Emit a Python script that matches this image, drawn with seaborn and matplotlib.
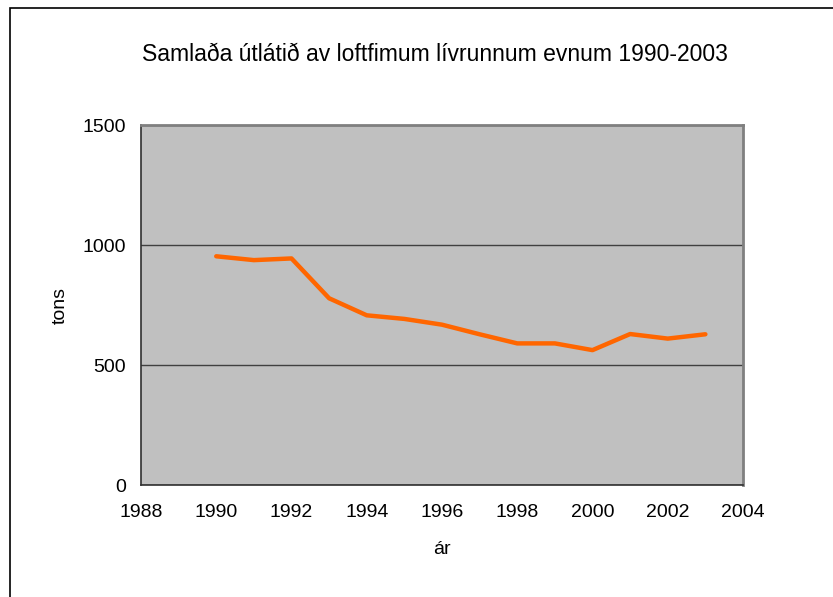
"""
Samlaða útlátið av loftfimum lívrunnum evnum 1990-2003 — line chart.
"""
import matplotlib.pyplot as plt
import pandas as pd
import seaborn as sns
from matplotlib.patches import Rectangle

years = [1990, 1991, 1992, 1993, 1994, 1995, 1996, 1997, 1998, 1999, 2000, 2001, 2002, 2003]
tons = [953, 937, 944, 778, 707, 692, 668, 628, 590, 590, 562, 629, 610, 628]

x_ticks = list(range(1988, 2005, 2))
y_ticks = [0, 500, 1000, 1500]

df = pd.DataFrame({"ár": years, "tons": tons})

sns.set_theme(style="white")
plt.rcParams["font.family"] = ["Liberation Sans", "DejaVu Sans"]
plt.rcParams["text.color"] = "black"
plt.rcParams["axes.labelcolor"] = "black"

fig = plt.figure(figsize=(8.33, 5.97), dpi=100)
ax = fig.add_axes([141 / 833, 1 - 485 / 597, 602 / 833, 360 / 597])
ax.set_facecolor("#C0C0C0")

# outer chart border (only left and top edges visible in the frame)
fig.patches.append(Rectangle((10 / 833, -0.1), 1.2, 1 - 8 / 597 + 0.1,
                             transform=fig.transFigure, fill=False,
                             edgecolor="black", linewidth=1.2))

sns.lineplot(data=df, x="ár", y="tons", ax=ax, color="#FF6600", linewidth=3.2)

ax.set_xlim(1988, 2004)
ax.set_ylim(0, 1500)
ax.set_xticks(x_ticks)
ax.set_yticks(y_ticks)
ax.yaxis.grid(True, color="#404040", linewidth=1.0)
ax.set_axisbelow(True)

for side in ("top", "right"):
    ax.spines[side].set_color("#808080")
    ax.spines[side].set_linewidth(2)
for side in ("left", "bottom"):
    ax.spines[side].set_color("#303030")
    ax.spines[side].set_linewidth(1.2)

ax.tick_params(axis="both", direction="out", length=4, width=1, color="#303030",
               labelsize=14, labelcolor="black")
ax.tick_params(axis="y", pad=7)
ax.tick_params(axis="x", pad=10)

ax.set_title("Samlaða útlátið av loftfimum lívrunnum evnum 1990-2003",
             fontsize=16.5, pad=46, x=0.488, color="black")
ax.set_xlabel("ár", fontsize=14, labelpad=14, color="black")
ax.set_ylabel("tons", fontsize=14, labelpad=10, color="black")

fig.savefig("out.png", dpi=100)
